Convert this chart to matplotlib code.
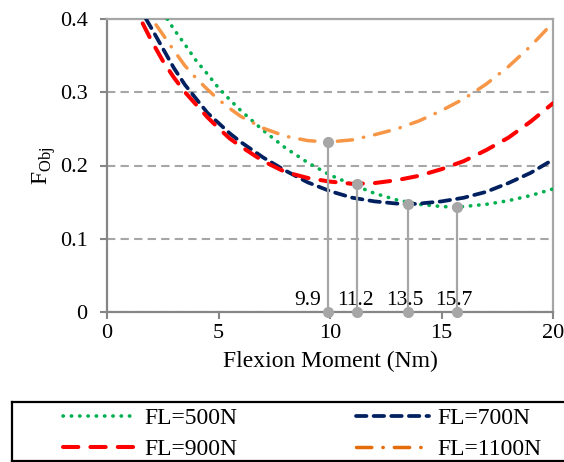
import numpy as np
import matplotlib
matplotlib.use("Agg")
import matplotlib.pyplot as plt
from matplotlib.lines import Line2D
from matplotlib.ticker import FuncFormatter

plt.rcParams['font.family'] = ['Liberation Serif', 'DejaVu Serif']
plt.rcParams['mathtext.fontset'] = 'custom'
plt.rcParams['mathtext.rm'] = 'Liberation Serif'

# values
x_500 = [2.7, 3, 3.5, 4, 4.5, 5, 5.5, 6, 7, 8, 9, 10, 11, 12, 13, 14, 15, 15.7, 16, 17, 18, 19, 20]
y_500 = [0.400, 0.386, 0.365, 0.343, 0.325, 0.306, 0.290, 0.275, 0.248, 0.224, 0.204, 0.187,
         0.174, 0.162, 0.153, 0.147, 0.144, 0.143, 0.144, 0.147, 0.152, 0.159, 0.168]

x_700 = [1.75, 2, 2.5, 3, 3.5, 4, 4.5, 5, 5.5, 6, 7, 8, 9, 10, 11, 12, 13, 13.5, 14, 15, 16, 17, 18, 19, 20]
y_700 = [0.400, 0.387, 0.360, 0.333, 0.310, 0.291, 0.272, 0.258, 0.244, 0.232, 0.211, 0.193,
         0.177, 0.165, 0.156, 0.151, 0.148, 0.147, 0.148, 0.151, 0.156, 0.164, 0.176, 0.190, 0.208]

x_900 = [1.6, 2, 2.5, 3, 3.5, 4, 4.5, 5, 5.5, 6, 7, 8, 9, 10, 11, 11.2, 12, 13, 14, 15, 16, 17, 18, 19, 20]
y_900 = [0.394, 0.370, 0.343, 0.320, 0.300, 0.283, 0.266, 0.251, 0.237, 0.226, 0.206, 0.191,
         0.183, 0.178, 0.175, 0.175, 0.176, 0.180, 0.186, 0.195, 0.206, 0.221, 0.238, 0.260, 0.285]

x_1100 = [2.2, 2.5, 3, 3.5, 4, 4.5, 5, 5.5, 6, 7, 8, 9, 9.9, 11, 12, 13, 14, 15, 16, 17, 18, 19, 20]
y_1100 = [0.392, 0.379, 0.357, 0.336, 0.319, 0.304, 0.290, 0.278, 0.267, 0.251, 0.240, 0.234,
          0.232, 0.235, 0.242, 0.250, 0.261, 0.275, 0.291, 0.311, 0.335, 0.363, 0.395]

min_x = [9.9, 11.2, 13.5, 15.7]
min_y = [0.232, 0.175, 0.147, 0.143]
labels = ['FL=500N', 'FL=700N', 'FL=900N', 'FL=1100N']

fig = plt.figure(figsize=(5.64, 4.62), dpi=100)
ax = fig.add_axes([107 / 564, 150 / 462, 446 / 564, 293 / 462])

styles = [
    dict(color='#00b050', lw=2.6, dashes=(0.1, 2.2), dash_capstyle='round'),
    dict(color='#002060', lw=2.7, dashes=(2.8, 1.9), dash_capstyle='round'),
    dict(color='#ff0000', lw=2.9, dashes=(3.8, 3.0), dash_capstyle='round'),
    dict(color='#f79646', lw=2.5, dashes=(4.4, 3.2, 0.1, 3.2), dash_capstyle='round'),
]
series = [(x_500, y_500), (x_700, y_700), (x_900, y_900), (x_1100, y_1100)]
for (xs, ys), st in zip(series, styles):
    ax.plot(xs, ys, zorder=3, **st)

gray = '#a6a6a6'
for mx, my in zip(min_x, min_y):
    ax.plot([mx, mx], [0, my], color=gray, lw=1.6, marker='o', ms=7,
            zorder=4, clip_on=False)

offsets = [(-0.3, 'right'), (-0.05, 'center'), (-0.15, 'center'), (-0.15, 'center')]
for mx, (dx, ha) in zip(min_x, offsets):
    ax.text(mx + dx, 0.009, f"{mx:.1f}", ha=ha, va='baseline', fontsize=15.5, zorder=5)

ax.set_xlim(0, 20)
ax.set_ylim(0, 0.4)
ax.set_xticks([0, 5, 10, 15, 20])
ax.set_yticks([0, 0.1, 0.2, 0.3, 0.4])
ax.yaxis.set_major_formatter(FuncFormatter(lambda v, p: f"{v:g}"))
ax.yaxis.grid(True, color=gray, lw=1.5, linestyle=(0, (4, 2.5)))
ax.set_axisbelow(True)
for side in ['left', 'bottom']:
    ax.spines[side].set_color('#868686')
    ax.spines[side].set_linewidth(1.6)
for side in ['top', 'right']:
    ax.spines[side].set_color(gray)
    ax.spines[side].set_linewidth(1.6)
ax.tick_params(direction='out', length=5, width=1.5, color='#868686', labelsize=16, pad=4)
ax.tick_params(axis='y', pad=9)
ax.set_xlabel('Flexion Moment (Nm)', fontsize=17, labelpad=5)
ax.set_ylabel('F$_{\\mathrm{Obj}}$', fontsize=17, labelpad=1)

# legend box
lax = fig.add_axes([12 / 564, 1 / 462, 556 / 564, 59 / 462])
lax.set_xticks([])
lax.set_yticks([])
for s in lax.spines.values():
    s.set_color('black')
    s.set_linewidth(1.6)
leg_styles = [dict(styles[0]), dict(styles[1]), dict(styles[2]), dict(styles[3], color='#e46c0a')]
handles = [Line2D([], [], **st) for st in leg_styles]
order = [0, 2, 1, 3]
lax.legend([handles[i] for i in order], [labels[i] for i in order], ncol=2,
           loc='center', bbox_to_anchor=(0.522, 0.46), frameon=False, fontsize=17,
           handlelength=3.1, handletextpad=0.35, columnspacing=5.0, labelspacing=0.4)

fig.savefig('out.png', dpi=100)
